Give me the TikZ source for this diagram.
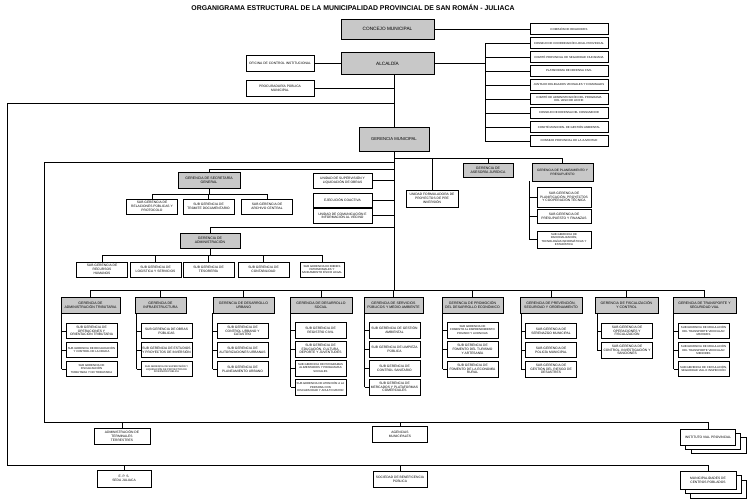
\documentclass[tikz,border=0pt]{standalone}
\usepackage{fontspec}
\setmainfont{Liberation Sans}
\usetikzlibrary{calc}
\definecolor{orggray}{RGB}{200,200,200}

\begin{document}
\begin{tikzpicture}[x=1pt,y=-1pt,
    unit/.style={draw,line width=0.6pt,fill=white,inner sep=0.5pt,align=center,
      minimum width=51,minimum height=15,font=\fontsize{3.3}{3.8}\selectfont},
    ger/.style={unit,fill=orggray,minimum width=61,minimum height=16,font=\fontsize{3.5}{4.1}\selectfont},
    cons/.style={unit,minimum width=78,minimum height=11,font=\fontsize{2.85}{3.3}\selectfont},
    thk/.style={line width=0.9pt},
    sm/.style={font=\fontsize{2.8}{3.3}\selectfont},
    xs/.style={font=\fontsize{2.5}{2.9}\selectfont},
    wire/.style={line width=0.6pt}]

\useasboundingbox (0,0) rectangle (756,504);

% Title
\node[font=\bfseries\fontsize{6.9}{8}\selectfont] (title) at (353,7) {ORGANIGRAMA ESTRUCTURAL DE LA MUNICIPALIDAD PROVINCIAL DE SAN ROMÁN - JULIACA};

% Alta direccion
\node[ger,minimum width=93,minimum height=20,font=\fontsize{4.7}{5.5}\selectfont] (cm) at (387.5,29) {CONCEJO MUNICIPAL};
\node[ger,minimum width=93,minimum height=22,font=\fontsize{4.7}{5.5}\selectfont] (alc) at (387.5,63) {ALCALDÍA};
\node[unit,minimum width=68,minimum height=16] (oci) at (280,63) {OFICINA DE CONTROL INSTITUCIONAL};
\node[unit,minimum width=68,minimum height=16] (ppm) at (280,88) {PROCURADURÍA PÚBLICA\\MUNICIPAL};
\node[ger,minimum width=70,minimum height=24,font=\fontsize{4.2}{5}\selectfont] (gm) at (394,139) {GERENCIA MUNICIPAL};

% Organos consultivos
\node[cons] (c1) at (569,29) {COMISIÓN DE REGIDORES};
\node[cons] (c2) at (569,43) {CONSEJO DE COORDINACIÓN LOCAL PROVINCIAL};
\node[cons] (c3) at (569,57) {COMITÉ PROVINCIAL DE SEGURIDAD CIUDADANA};
\node[cons] (c4) at (569,71) {PLATAFORMA DE DEFENSA CIVIL};
\node[cons] (c5) at (569,85) {JUNTA DE DELEGADOS VECINALES Y COMUNALES};
\node[cons] (c6) at (569,99) {COMITÉ DE ADMINISTRACIÓN DEL PROGRAMA\\DEL VASO DE LECHE};
\node[cons] (c7) at (569,113) {CONSEJO DE DEFENSA DEL CONSUMIDOR};
\node[cons] (c8) at (569,127) {COMITÉ MUNICIPAL DE GESTIÓN AMBIENTAL};
\node[cons] (c9) at (569,141) {CONSEJO PROVINCIAL DE LA JUVENTUD};

% Apoyo y asesoria
\node[ger,minimum width=62] (sg) at (209,180) {GERENCIA DE SECRETARÍA\\GENERAL};
\node[unit] (sg-1) at (152,206.5) {SUB GERENCIA DE\\RELACIONES PÚBLICAS Y\\PROTOCOLO};
\node[unit] (sg-2) at (208.5,206.5) {SUB GERENCIA DE\\TRÁMITE DOCUMENTARIO};
\node[unit] (sg-3) at (267,206.5) {SUB GERENCIA DE\\ARCHIVO CENTRAL};

\node[ger,minimum width=60,minimum height=15] (ga) at (210,240.5) {GERENCIA DE\\ADMINISTRACIÓN};
\node[unit] (ga-1) at (102,269.5) {SUB GERENCIA DE\\RECURSOS\\HUMANOS};
\node[unit] (ga-2) at (155.5,269.5) {SUB GERENCIA DE\\LOGÍSTICA Y SERVICIOS};
\node[unit] (ga-3) at (208.5,269.5) {SUB GERENCIA DE\\TESORERÍA};
\node[unit] (ga-4) at (263.5,269.5) {SUB GERENCIA DE\\CONTABILIDAD};
\node[unit,sm,minimum width=44] (ga-5) at (322,269.5) {SUB GERENCIA DE BIENES\\PATRIMONIALES Y\\SANEAMIENTO FÍSICO LEGAL};

\node[unit,minimum width=59] (sup) at (342.5,180.5) {UNIDAD DE SUPERVISIÓN Y\\LIQUIDACIÓN DE OBRAS};
\node[unit,minimum width=59,minimum height=14] (ec) at (342.5,200) {EJECUCIÓN COACTIVA};
\node[unit,minimum width=59] (uci) at (342.5,215.5) {UNIDAD DE COMUNICACIÓN E\\INFORMACIÓN AL VECINO};

\node[unit,minimum width=52,minimum height=17] (ufp) at (432,198.5) {UNIDAD FORMULADORA DE\\PROYECTOS DE PRE\\INVERSIÓN};
\node[ger,minimum width=50,minimum height=14] (aj) at (488,170) {GERENCIA DE\\ASESORÍA JURÍDICA};
\node[ger,minimum width=61,minimum height=18,font=\fontsize{3.2}{3.8}\selectfont] (pp) at (562.5,172) {GERENCIA DE PLANEAMIENTO Y\\PRESUPUESTO};
\node[unit,thk,minimum width=54,minimum height=20] (pp-1) at (564,197) {SUB GERENCIA DE\\PLANIFICACIÓN, PROYECTOS\\Y COOPERACIÓN TÉCNICA};
\node[unit,thk,minimum width=54,minimum height=14] (pp-2) at (564,216) {SUB GERENCIA DE\\PRESUPUESTO Y FINANZAS};
\node[unit,thk,sm,minimum width=54,minimum height=17] (pp-3) at (564,239.5) {SUB GERENCIA DE\\RACIONALIZACIÓN,\\TECNOLOGÍAS INFORMÁTICAS Y\\ESTADÍSTICA};

% Gerencias de linea
\node[ger,minimum width=59] (g1) at (90.5,305) {GERENCIA DE\\ADMINISTRACIÓN TRIBUTARIA};
\node[ger,minimum width=51] (g2) at (160.5,305) {GERENCIA DE\\INFRAESTRUCTURA};
\node[ger,minimum width=61] (g3) at (243.5,305) {GERENCIA DE DESARROLLO\\URBANO};
\node[ger,minimum width=62] (g4) at (321,305) {GERENCIA DE DESARROLLO\\SOCIAL};
\node[ger,minimum width=59] (g5) at (393.5,305) {GERENCIA DE SERVICIOS\\PÚBLICOS Y MEDIO AMBIENTE};
\node[ger,minimum width=61] (g6) at (472.5,305) {GERENCIA DE PROMOCIÓN\\DEL DESARROLLO ECONÓMICO};
\node[ger,minimum width=62] (g7) at (551,305) {GERENCIA DE PREVENCIÓN,\\SEGURIDAD Y ORDENAMIENTO};
\node[ger,minimum width=63] (g8) at (626.5,305) {GERENCIA DE FISCALIZACIÓN\\Y CONTROL};
\node[ger,minimum width=63] (g9) at (704.5,305) {GERENCIA DE TRANSPORTE Y\\SEGURIDAD VIAL};

\node[unit] (g1-1) at (91.5,331) {SUB GERENCIA DE\\OPERACIONES Y\\ORIENTACIÓN TRIBUTARIA};
\node[unit,sm] (g1-2) at (91.5,350) {SUB GERENCIA DE RECAUDACIÓN\\Y CONTROL DE LA DEUDA};
\node[unit,sm] (g1-3) at (91.5,369) {SUB GERENCIA DE\\FISCALIZACIÓN\\TRIBUTARIA Y NO TRIBUTARIA};

\node[unit] (g2-1) at (166.5,331) {SUB GERENCIA DE OBRAS\\PÚBLICAS};
\node[unit] (g2-2) at (166.5,350) {SUB GERENCIA DE ESTUDIOS\\Y PROYECTOS DE INVERSIÓN};
\node[unit,xs] (g2-3) at (166.5,369) {SUB GERENCIA DE SUPERVISIÓN Y\\LIQUIDACIÓN DE PROYECTOS DE\\INVERSIÓN PÚBLICA};

\node[unit] (g3-1) at (242.5,331) {SUB GERENCIA DE\\CONTROL URBANO Y\\CATASTRO};
\node[unit] (g3-2) at (242.5,350) {SUB GERENCIA DE\\AUTORIZACIONES URBANAS};
\node[unit] (g3-3) at (242.5,369) {SUB GERENCIA DE\\PLANEAMIENTO URBANO};

\node[unit,thk,minimum height=16] (g4-1) at (320.5,330) {SUB GERENCIA DE\\REGISTRO CIVIL};
\node[unit,thk,minimum height=16] (g4-2) at (320.5,349) {SUB GERENCIA DE\\EDUCACIÓN, CULTURA,\\DEPORTE Y JUVENTUDES};
\node[unit,thk,sm,minimum height=16] (g4-3) at (320.5,368) {SUB GERENCIA DE PROGRAMAS\\ALIMENTARIOS Y PROGRAMAS\\SOCIALES};
\node[unit,thk,sm,minimum height=16] (g4-4) at (320.5,387) {SUB GERENCIA DE ATENCIÓN A LA\\PERSONA CON\\DISCAPACIDAD Y ADULTO MAYOR};

\node[unit,minimum height=16] (g5-1) at (394.5,330) {SUB GERENCIA DE GESTIÓN\\AMBIENTAL};
\node[unit,minimum height=16] (g5-2) at (394.5,349) {SUB GERENCIA DE LIMPIEZA\\PÚBLICA};
\node[unit,minimum height=16] (g5-3) at (394.5,368) {SUB GERENCIA DE\\CONTROL SANITARIO};
\node[unit,minimum height=16] (g5-4) at (394.5,387) {SUB GERENCIA DE\\MERCADOS Y PLATAFORMAS\\COMERCIALES};

\node[unit,sm,minimum height=16] (g6-1) at (472.5,330) {SUB GERENCIA DE\\FOMENTO AL EMPRENDIMIENTO\\PRIVADO Y LICENCIAS};
\node[unit,minimum height=16] (g6-2) at (472.5,349.5) {SUB GERENCIA DE\\FOMENTO DEL TURISMO\\Y ARTESANÍA};
\node[unit,minimum height=16] (g6-3) at (472.5,369) {SUB GERENCIA DE\\FOMENTO DE LA ECONOMÍA\\RURAL};

\node[unit] (g7-1) at (551,331) {SUB GERENCIA DE\\SERENAZGO MUNICIPAL};
\node[unit] (g7-2) at (551,350) {SUB GERENCIA DE\\POLICÍA MUNICIPAL};
\node[unit,minimum height=16] (g7-3) at (551,369) {SUB GERENCIA DE\\GESTIÓN DEL RIESGO DE\\DESASTRES};

\node[unit] (g8-1) at (627,331) {SUB GERENCIA DE\\OPERACIONES Y\\FISCALIZACIÓN};
\node[unit,minimum height=16] (g8-2) at (627,350) {SUB GERENCIA DE\\CONTROL, INVESTIGACIÓN Y\\SANCIONES};

\node[unit,sm] (g9-1) at (703.5,331) {SUB GERENCIA DE REGULACIÓN\\DEL TRANSPORTE VEHICULAR\\MAYORES};
\node[unit,sm] (g9-2) at (703.5,350) {SUB GERENCIA DE REGULACIÓN\\DEL TRANSPORTE VEHICULAR\\MENORES};
\node[unit,sm] (g9-3) at (703.5,369) {SUB GERENCIA DE CIRCULACIÓN,\\SEGURIDAD VIAL E INSPECCIÓN};

% Organismos descentralizados
\node[unit,minimum width=56,minimum height=16] (atp) at (122,436) {ADMINISTRACIÓN DE\\TERMINALES\\TERRESTRES};
\node[unit,minimum width=55,minimum height=16] (am) at (400,434) {AGENCIAS\\MUNICIPALES};
\node[unit,minimum width=55,minimum height=16] (ivpc) at (719,445) {};
\node[unit,minimum width=55,minimum height=16] (ivpb) at (713,441) {};
\node[unit,minimum width=55,minimum height=16] (ivp) at (708,437) {INSTITUTO VIAL PROVINCIAL};
\node[unit,minimum width=54,minimum height=17] (eps) at (124,478.5) {E. P. S.\\SEDA JULIACA};
\node[unit,minimum width=54,minimum height=16] (sbp) at (400,479) {SOCIEDAD DE BENEFICENCIA\\PÚBLICA};
\node[unit,minimum width=56,minimum height=18] (mcpc) at (718,489) {};
\node[unit,minimum width=56,minimum height=18] (mcpb) at (713,484.5) {};
\node[unit,minimum width=56,minimum height=18] (mcp) at (708,480) {MUNICIPALIDADES DE\\CENTROS POBLADOS};

% Junctions
\coordinate (cbus) at (485,43);
\coordinate (sl) at (394,158);
\coordinate (il) at (44,162);
\coordinate (ib) at (44,422);
\coordinate (ol) at (7,103);
\coordinate (ob) at (7,465);
\coordinate (jsg) at (394,169);
\coordinate (jga) at (394,227);
\coordinate (sgb) at (209,194);
\coordinate (gab) at (210,255);
\coordinate (gbus) at (394,290);

% Alta direccion
\draw[wire] (cm.east) -- (c1.west);
\draw[wire] (oci.east) -- (alc.west);
\draw[wire] (alc.east) -- (alc.east -| cbus);
\draw[wire] (cbus) -- (cbus |- c9.west);
\foreach \i in {2,...,9} \draw[wire] (cbus |- c\i.west) -- (c\i.west);
\draw[wire] (alc.south -| gm.north) -- (gm.north);
\draw[wire] (ppm.east) -- (ppm.east -| gm.north);
\draw[wire] (gm.south) -- (gbus);

% Outer and inner loops
\draw[wire] (ol -| gm.north) -- (ol) -- (ob) -| (mcp.north);
\draw[wire] (eps.north) -- (eps.north |- ob);
\draw[wire] (sbp.north) -- (sbp.north |- ob);
\draw[wire] (il -| gm.north) -- (il) -- (ib) -| (ivp.north);
\draw[wire] (atp.north) -- (atp.north |- ib);
\draw[wire] (am.north) -- (am.north |- ib);

% Staff
\draw[wire] (sl) -| (pp.north);
\draw[wire] (ufp.north) -- (ufp.north |- sl);
\draw[wire] (aj.north) -- (aj.north |- sl);
\draw[wire] (jsg) -| (sg.north);
\draw[wire] (jga) -| (ga.north);
\draw[wire] (sup.east) -- (sup.east -| gm.south);
\draw[wire] (ec.east) -- (ec.east -| gm.south);
\draw[wire] (uci.east) -- (uci.east -| gm.south);

\draw[wire] (sg.south) -- (sg.south |- sgb);
\draw[wire] (sg-1.north |- sgb) -- (sg-3.north |- sgb);
\foreach \k in {1,2,3} \draw[wire] (sg-\k.north) -- (sg-\k.north |- sgb);
\draw[wire] (ga.south) -- (ga.south |- gab);
\draw[wire] (ga-1.north |- gab) -- (ga-5.north |- gab);
\foreach \k in {1,...,5} \draw[wire] (ga-\k.north) -- (ga-\k.north |- gab);

\coordinate (vp) at ($(pp-1.west)+(-7,0)$);
\draw[wire,thk] (vp |- pp.south) -- (vp |- pp-3.west);
\foreach \k in {1,2,3} \draw[wire,thk] (vp |- pp-\k.west) -- (pp-\k.west);

% Line gerencias
\draw[wire] (g1.north |- gbus) -- (g9.north |- gbus);
\foreach \g in {1,...,9} \draw[wire] (g\g.north) -- (g\g.north |- gbus);
\foreach \g/\n in {1/3,2/3,3/3,4/4,5/4,6/3,7/3,8/2,9/3}{
  \coordinate (v\g) at ($(g\g-1.west)+(-4,0)$);
  \draw[wire] (v\g |- g\g.south) -- (v\g |- g\g-\n.west);
  \foreach \k in {1,...,\n} \draw[wire] (v\g |- g\g-\k.west) -- (g\g-\k.west);
}
\end{tikzpicture}
\end{document}
